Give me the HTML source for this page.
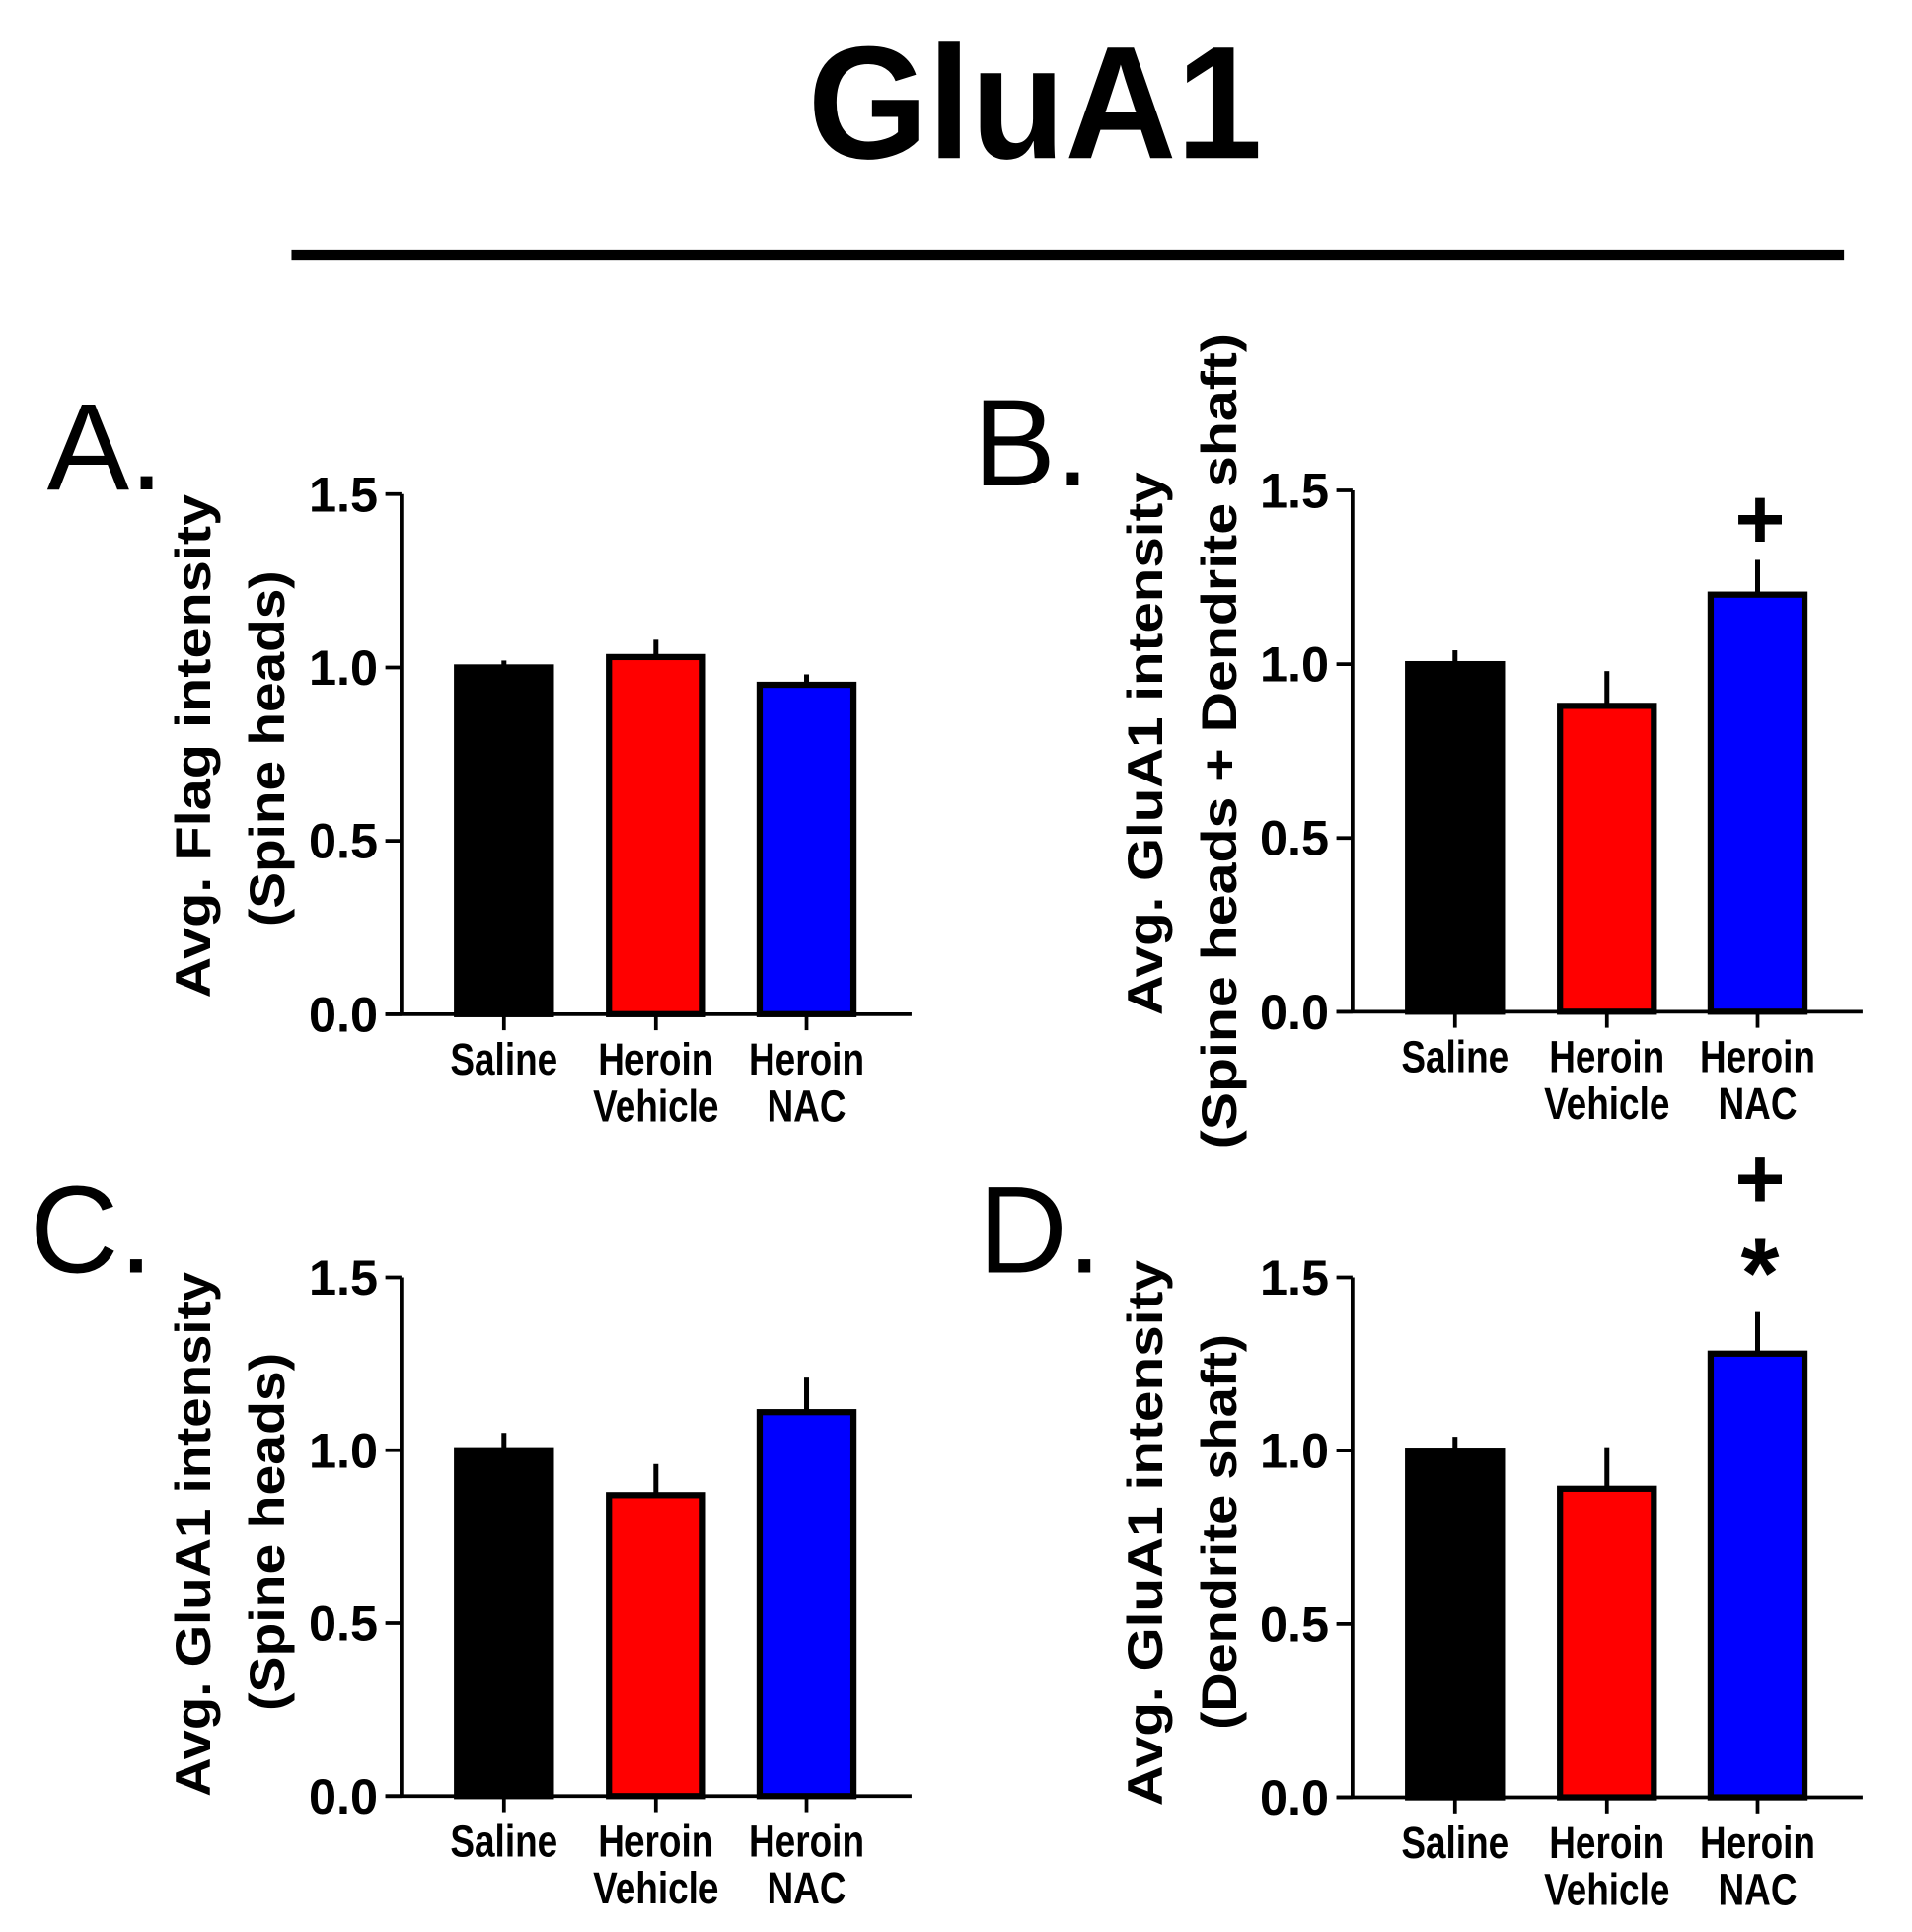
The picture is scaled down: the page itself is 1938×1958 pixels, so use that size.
<!DOCTYPE html>
<html><head><meta charset="utf-8"><style>
html,body{margin:0;padding:0;background:#fff;}
svg{display:block;font-family:"Liberation Sans",Arial,sans-serif;}
</style></head><body>
<svg id="fig" width="1938" height="1958" viewBox="0 0 1548 1564" xmlns="http://www.w3.org/2000/svg">
<text x="838" y="128" text-anchor="middle" font-size="130" font-weight="bold" textLength="368" lengthAdjust="spacingAndGlyphs">GluA1</text>
<rect x="236" y="202" width="1257" height="9" fill="#000"/>
</svg>
<script>
const categories = [["Saline"],["Heroin","Vehicle"],["Heroin","NAC"]];
const tickValues = [0.0, 0.5, 1.0, 1.5];
const tickLabels = ["0.0","0.5","1.0","1.5"];
const valuesA = [1.00, 1.03, 0.95];
const errorsA = [0.02, 0.05, 0.03];
const valuesB = [1.00, 0.88, 1.20];
const errorsB = [0.04, 0.10, 0.10];
const valuesC = [1.00, 0.87, 1.11];
const errorsC = [0.05, 0.09, 0.10];
const valuesD = [1.00, 0.89, 1.28];
const errorsD = [0.04, 0.12, 0.12];
const fills = ["#000000","#ff0000","#0000ff"];

const NS = "http://www.w3.org/2000/svg";
const svg = document.getElementById('fig');
function mk(tag, attrs, parent){
  const e = document.createElementNS(NS, tag);
  for (const k in attrs) e.setAttribute(k, attrs[k]);
  (parent||svg).appendChild(e); return e;
}
function panel(id, letter, letterX, ax, y0, yTop, values, errors, ylabs, ylabX, marks){
  const g = mk('g', {});
  
  
  const yScale = v => y0 - (v / 1.5) * (y0 - yTop);
  const xEnd = ax + 413;
  const centers = [ax + 83, ax + 206, ax + 328];
  const xScale = i => centers[i];
  const bw = 76;
  const L = mk('text', {x: letterX, y: yTop - 4, 'font-size': 100}, g);
  L.textContent = letter + '.';
  
  
  values.forEach((v, i) => {
    const top = yScale(v), et = yScale(v + errors[i]);
    const eb = mk('line', {x1: xScale(i), x2: xScale(i), y1: et, y2: top, stroke: '#000', 'stroke-width': 4}, g);
    
    
    const r = mk('rect', {x: xScale(i) - bw/2, y: top, width: bw, height: y0 - top, fill: fills[i], stroke: '#000', 'stroke-width': 5}, g);
    
    
  });
  const ya = mk('line', {x1: ax, x2: ax, y1: yTop, y2: y0, stroke: '#000', 'stroke-width': 3}, g);
  
  
  const xa = mk('line', {x1: ax - 13, x2: xEnd, y1: y0, y2: y0, stroke: '#000', 'stroke-width': 3}, g);
  
  
  tickValues.forEach((t, i) => {
    const y = yScale(t);
    mk('line', {x1: ax - 13, x2: ax, y1: y, y2: y, stroke: '#000', 'stroke-width': 3}, g);
    const tl = mk('text', {x: ax - 75, y: y + 14, 'font-size': 40, 'font-weight': 'bold', textLength: 56, lengthAdjust: 'spacingAndGlyphs'}, g);
    tl.textContent = tickLabels[i];
    
    
  });
  categories.forEach((c, i) => {
    mk('line', {x1: xScale(i), x2: xScale(i), y1: y0, y2: y0 + 13, stroke: '#000', 'stroke-width': 3}, g);
    c.forEach((s, j) => {
      const t = mk('text', {x: xScale(i), y: y0 + 49 + j * 38, 'text-anchor': 'middle', 'font-size': 36, 'font-weight': 'bold', transform: 'translate(' + xScale(i) + ',0) scale(0.82,1) translate(' + (-xScale(i)) + ',0)'}, g);
      t.textContent = s;
      
      
    });
  });
  ylabs.forEach((l, j) => {
    const x = ylabX + j * 60;
    const t = mk('text', {x: x, y: l.c, 'text-anchor': 'middle', 'font-size': 40, 'font-weight': 'bold', textLength: l.len, lengthAdjust: 'spacingAndGlyphs', transform: 'rotate(-90 ' + x + ' ' + l.c + ')', 'xml:space': 'preserve'}, g);
    t.textContent = l.s;
    
    
  });
  marks.forEach(m => {
    const t = mk('text', {x: xScale(2) + 2, y: m.y, 'text-anchor': 'middle', 'font-size': m.size, 'font-weight': 'bold'}, g);
    t.textContent = m.s;
    
    
  });
}
panel('a', 'A', 38, 325, 821, 400, valuesA, errorsA,
  [{s:'Avg.  Flag intensity', len:408, c:604},{s:'(Spine heads)', len:288, c:606}], 170, []);
panel('b', 'B', 788, 1095, 819, 397, valuesB, errorsB,
  [{s:'Avg.  GluA1 intensity', len:440, c:602},{s:'(Spine heads  + Dendrite shaft)', len:660, c:600}], 941, [{s:'+', y:444, size:70}]);
panel('c', 'C', 24, 325, 1454, 1034, valuesC, errorsC,
  [{s:'Avg. GluA1 intensity', len:425, c:1242},{s:'(Spine heads)', len:290, c:1240}], 170, []);
panel('d', 'D', 792, 1095, 1455, 1034, valuesD, errorsD,
  [{s:'Avg.  GluA1 intensity', len:442, c:1241},{s:'(Dendrite shaft)', len:320, c:1240}], 941, [{s:'+', y:978, size:70},{s:'*', y:1058, size:80}]);
</script>
</body></html>
